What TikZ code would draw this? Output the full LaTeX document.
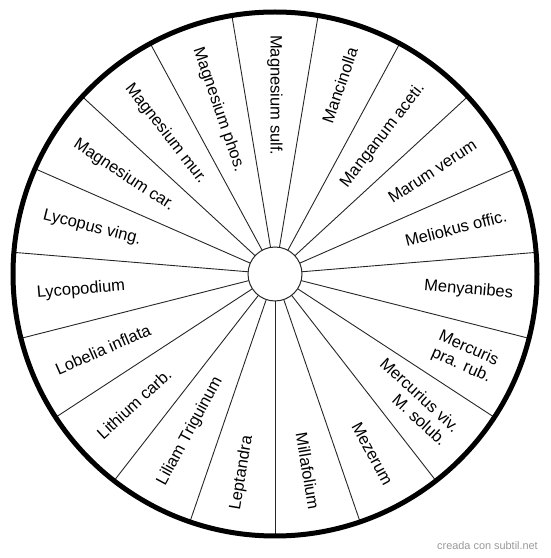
\documentclass[tikz,border=0pt]{standalone}
\usepackage{fontspec}
\setmainfont{Liberation Sans}
\usepackage{tikz}
\usetikzlibrary{calc}

\tikzset{
  spoke/.style={draw=black!85,line width=0.9pt},
  rimline/.style={draw=black,line width=5pt},
  hubline/.style={draw=black!85,line width=1pt,fill=white},
  rightlbl/.style={anchor=east,inner sep=0pt,align=right,font=\fontsize{16.5}{18.5}\selectfont},
  leftlbl/.style={anchor=west,inner sep=0pt,align=right,font=\fontsize{16.5}{18.5}\selectfont},
  credit/.style={anchor=east,inner sep=0pt,text=black!40,font=\fontsize{10.9}{12}\selectfont}
}

\begin{document}
\begin{tikzpicture}[x=1pt,y=1pt]
\useasboundingbox (0,0) rectangle (550,558);
\coordinate (hub) at (275,284);
% spokes:
\foreach \k in {0,...,18}
  \path[spoke] ($(hub)+({99.4737+360/19*\k}:27)$) -- ($(hub)+({99.4737+360/19*\k}:262)$);
% rim and hub:
\path[rimline] (hub) circle[radius=262];
\path[hubline] (hub) circle[radius=27];
% labels, right half (reading outward):
\foreach \txt [count=\i] in {Mancinolla,Manganum aceti.,Marum verum,Meliokus offic.,
    Menyanibes,{Mercuris\\pra. rub.},{Mercurius viv.\\M. solub.},Mezerum,Millafolium}
  \node[rightlbl,rotate={90-360/19*\i}] (lbl\i) at ($(hub)+({90-360/19*\i}:239)$) {\txt};
% labels, left half (reading inward):
\foreach \txt [count=\i from 10] in {Leptandra,Liliam Triguinum,Lithium carb.,Lobelia inflata,
    Lycopodium,Lycopus ving.,Magnesium car.,Magnesium mur.,Magnesium phos.,Magnesium sulf.}
  \node[leftlbl,rotate={270-360/19*\i}] (lbl\i) at ($(hub)+({90-360/19*\i}:239)$) {\txt};
% credit:
\node[credit] (credit) at (538,12) {creada con subtil.net};
\end{tikzpicture}
\end{document}
